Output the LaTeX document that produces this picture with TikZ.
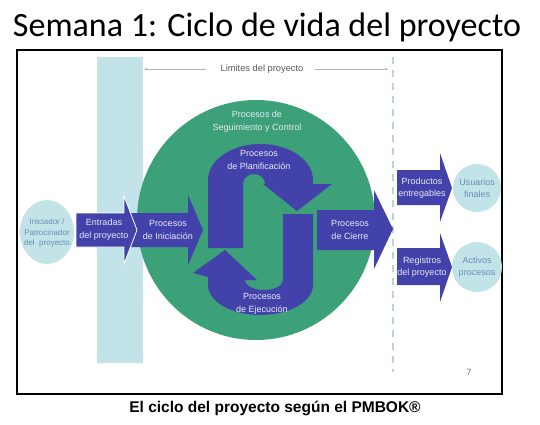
\documentclass[tikz,border=0pt]{standalone}
\usepackage{fontspec}
\setmainfont{Liberation Sans}
\newfontfamily\titlefont{Carlito}
\usetikzlibrary{arrows.meta, positioning}
\definecolor{pmblue}{RGB}{66,66,170}
\definecolor{pmgreen}{RGB}{60,160,120}
\definecolor{pmcyan}{RGB}{194,228,233}
\definecolor{pmtext}{RGB}{232,232,248}
\definecolor{pmsoft}{RGB}{105,140,182}
\tikzset{blk/.style={fill=pmblue},
    lbl/.style={font=\fontsize{9}{13}\selectfont, text=pmtext, align=center, inner sep=0pt},
    softlbl/.style={lbl, text=pmsoft},
    bubble/.style={fill=pmcyan},
    limarrow/.style={draw=black!30, thin, -{Stealth[length=3pt,width=2.5pt]}}}

\begin{document}
\begin{tikzpicture}[x=1pt,y=-1pt]
    \useasboundingbox (0,0) rectangle (540,424);

    % Title and caption
    \node[font=\titlefont\fontsize{34}{34}\selectfont, anchor=base, inner sep=0pt] (title) at (267,36)
        {Semana 1: Ciclo de vida del proyecto};
    \draw[line width=2pt] (17,50) rectangle (502,394);
    \node[font=\bfseries\fontsize{15.5}{16}\selectfont, inner sep=0pt] (caption) at (275,408)
        {El ciclo del proyecto según el PMBOK®};
    \node[font=\fontsize{9}{9}\selectfont, text=black!55, inner sep=0pt] (pagenum) at (469,372) {7};

    % Project limits
    \fill[pmcyan] (97,57) rectangle (143,363);
    \draw[pmcyan!85!gray, line width=1.3pt, dash pattern=on 7pt off 6pt] (393,57) -- (393,372);
    \node[font=\fontsize{9.3}{10}\selectfont, text=black!65, inner sep=0pt] (limites) at (262,69)
        {Limites del proyecto};
    \coordinate (limL) at (144,69);
    \coordinate (limR) at (388,69);
    \draw[limarrow] ([xshift=-14pt]limites.west) -- (limL);
    \draw[limarrow] ([xshift=11pt]limites.east) -- (limR);

    % Monitoring circle
    \fill[pmgreen] (256,220) ellipse[x radius=119, y radius=120];

    % Straight block arrows
    \fill[blk] (130,213) -- (188,213) -- (188,195) -- (203,230) -- (188,265) -- (188,247) -- (130,247) -- cycle;
    \filldraw[blk, draw=white, line width=0.8pt]
        (76,213) -- (124,213) -- (124,196) -- (137,230) -- (124,264) -- (124,247) -- (76,247) -- cycle;
    \fill[blk] (317,210) -- (374,210) -- (374,190) -- (393,229) -- (374,269) -- (374,250) -- (317,250) -- cycle;
    \fill[blk] (397,170) -- (440,170) -- (440,153) -- (452,188) -- (440,222) -- (440,205) -- (397,205) -- cycle;
    \fill[blk] (397,248) -- (440,248) -- (440,233) -- (452,267) -- (440,302) -- (440,285) -- (397,285) -- cycle;

    % Planning and execution loop
    \fill[blk] (208,248) -- (208,180) arc[start angle=180, end angle=360, x radius=52.5, y radius=36]
        -- (313,184) -- (332,184) -- (297,211) -- (263,184) -- (265,184)
        arc[start angle=0, end angle=-180, x radius=11, y radius=10] -- (243,248) -- cycle;
    \fill[blk] (313,214) -- (313,285) arc[start angle=0, end angle=180, x radius=52.5, y radius=30]
        -- (208,277) -- (193,273) -- (225,250) -- (257,280) -- (245,280)
        arc[start angle=180, end angle=0, x radius=19, y radius=10] -- (283,214) -- cycle;

    % Outside parties
    \fill[bubble] (47,232) ellipse[x radius=27, y radius=32];
    \fill[bubble] (477,188) circle[radius=24];
    \fill[bubble] (477,267) circle[radius=25];

    % Labels
    \node[softlbl, font=\fontsize{8}{10.5}\selectfont] (iniciador) at (47,233)
        {Iniciador /\\Patrocinador\\del\ \ proyecto};
    \node[lbl] (entradas) at (104,230) {Entradas\\del proyecto};
    \node[lbl] (iniciacion) at (168,230) {Procesos\\de Iniciación};
    \node[lbl] (seguim) at (257,122) {Procesos de\\Seguimiento y Control};
    \node[lbl] (planif) at (259,160) {Procesos\\de Planificación};
    \node[lbl] (ejec) at (262,304) {Procesos\\de Ejecución};
    \node[lbl] (cierre) at (350,230) {Procesos\\de Cierre};
    \node[lbl, font=\fontsize{9}{12}\selectfont] (productos) at (422,188) {Productos\\entregables};
    \node[lbl, font=\fontsize{9}{12}\selectfont] (registros) at (422,267) {Registros\\del proyecto};
    \node[softlbl, font=\fontsize{9}{12}\selectfont] (usuarios) at (477,188) {Usuarios\\finales};
    \node[softlbl, font=\fontsize{9}{12}\selectfont] (activos) at (477,267) {Activos\\procesos};
\end{tikzpicture}
\end{document}
